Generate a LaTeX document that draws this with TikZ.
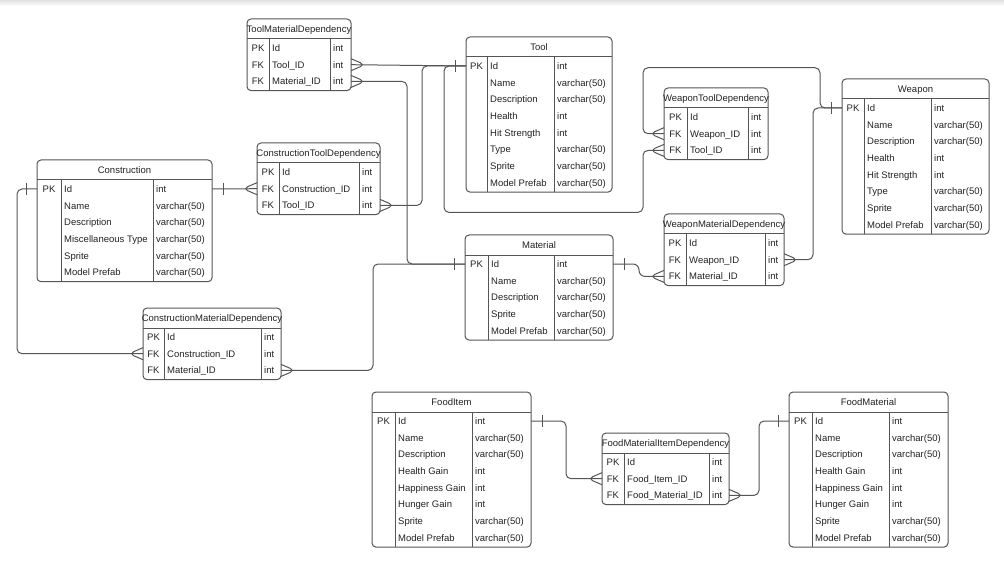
\documentclass[tikz,border=0pt]{standalone}
\usepackage{fontspec}
\setmainfont{Liberation Sans}

\definecolor{erline}{HTML}{555555}
\definecolor{ertext}{HTML}{222222}

\tikzset{
  tbl/.style={draw=erline, line width=1pt},
  cell/.style={inner sep=0pt, text=ertext, text height=6.8pt, text depth=0pt,
    font=\fontsize{9.5}{11}\selectfont},
  ttl/.style={cell},
  keycell/.style={cell},
  namecell/.style={cell, anchor=west},
  link/.style={draw=erline, line width=1pt, rounded corners=5pt},
}

% table: name, x, y, key col, name col, type col, title, rows
\newcommand{\ertable}[8]{%
  \foreach \ky/\nm/\ty [count=\i] in {#8} {
    \node[keycell] (#1-\i-k) at (#2+#4/2, #3+29+\i*16.7-16.7) {\ky};
    \node[namecell] (#1-\i-n) at (#2+#4+3, #3+29+\i*16.7-16.7) {\nm};
    \node[namecell] (#1-\i-t) at (#2+#4+#5+3, #3+29+\i*16.7-16.7) {\ty};
    \coordinate (#1-\i-w) at (#2, #3+29+\i*16.7-16.7);
    \coordinate (#1-\i-e) at (#2+#4+#5+#6, #3+29+\i*16.7-16.7);
    \xdef\ernrows{\i}
  }
  \draw[tbl, rounded corners=4pt] (#2,#3) rectangle ++(#4+#5+#6, 21.5+\ernrows*16.7);
  \draw[tbl] (#2,#3+20) -- ++(#4+#5+#6,0);
  \draw[tbl] (#2+#4,#3+20) -- (#2+#4, #3+21.5+\ernrows*16.7);
  \draw[tbl] (#2+#4+#5,#3+20) -- (#2+#4+#5, #3+21.5+\ernrows*16.7);
  \node[ttl] (#1) at (#2+#4/2+#5/2+#6/2, #3+10) {#7};
}

% one and many ends
\newcommand{\erone}[2]{\draw[link] ([xshift=#2*11pt, yshift=6pt]#1) -- ([xshift=#2*11pt, yshift=-6pt]#1);}
\newcommand{\ermany}[2]{\draw[link] ([yshift=6pt]#1) -- ([xshift=#2*14pt]#1) -- ([yshift=-6pt]#1);}

\begin{document}
\begin{tikzpicture}[x=1pt, y=-1pt]
  \useasboundingbox (0,0) rectangle (1004,564);
  \shade[top color=black!12, bottom color=white] (0,0) rectangle (1004,6);

  \ertable{tmd}{247}{19}{22}{61}{21}{ToolMaterialDependency}
    {PK/Id/int, FK/Tool\_ID/int, FK/Material\_ID/int}
  \ertable{tool}{466}{37}{21}{67}{58}{Tool}
    {PK/Id/int, /Name/varchar(50), /Description/varchar(50), /Health/int,
     /Hit Strength/int, /Type/varchar(50), /Sprite/varchar(50), /Model Prefab/varchar(50)}
  \ertable{weapon}{842}{79}{22}{67}{58}{Weapon}
    {PK/Id/int, /Name/varchar(50), /Description/varchar(50), /Health/int,
     /Hit Strength/int, /Type/varchar(50), /Sprite/varchar(50), /Model Prefab/varchar(50)}
  \ertable{wtd}{664}{88}{23}{61}{20}{WeaponToolDependency}
    {PK/Id/int, FK/Weapon\_ID/int, FK/Tool\_ID/int}
  \ertable{construction}{37}{160}{24}{92}{59}{Construction}
    {PK/Id/int, /Name/varchar(50), /Description/varchar(50),
     /Miscellaneous Type/varchar(50), /Sprite/varchar(50), /Model Prefab/varchar(50)}
  \ertable{ctd}{257}{143}{22}{80}{21}{ConstructionToolDependency}
    {PK/Id/int, FK/Construction\_ID/int, FK/Tool\_ID/int}
  \ertable{cmd}{143}{308}{21}{97}{20}{ConstructionMaterialDependency}
    {PK/Id/int, FK/Construction\_ID/int, FK/Material\_ID/int}
  \ertable{material}{465}{235}{23}{66}{59}{Material}
    {PK/Id/int, /Name/varchar(50), /Description/varchar(50), /Sprite/varchar(50),
     /Model Prefab/varchar(50)}
  \ertable{wmd}{664}{214}{22}{79}{19}{WeaponMaterialDependency}
    {PK/Id/int, FK/Weapon\_ID/int, FK/Material\_ID/int}
  \ertable{fooditem}{372}{392}{23}{77}{59}{FoodItem}
    {PK/Id/int, /Name/varchar(50), /Description/varchar(50), /Health Gain/int,
     /Happiness Gain/int, /Hunger Gain/int, /Sprite/varchar(50), /Model Prefab/varchar(50)}
  \ertable{fmid}{602}{433}{22}{85}{20}{FoodMaterialItemDependency}
    {PK/Id/int, FK/Food\_Item\_ID/int, FK/Food\_Material\_ID/int}
  \ertable{foodmat}{789}{392}{23}{77}{59}{FoodMaterial}
    {PK/Id/int, /Name/varchar(50), /Description/varchar(50), /Health Gain/int,
     /Happiness Gain/int, /Hunger Gain/int, /Sprite/varchar(50), /Model Prefab/varchar(50)}

  % tool links
  \draw[link] (tmd-2-e) -- (tool-1-w);
  \draw[link] (ctd-3-e) -- ++(42,0) |- (tool-1-w);
  \draw[link] (wtd-3-w) -- ++(-21,0) -- ++(0,62) -| ([xshift=-22pt]tool-1-w) -- (tool-1-w);
  \ermany{tmd-2-e}{1}
  \ermany{ctd-3-e}{1}
  \ermany{wtd-3-w}{-1}
  \erone{tool-1-w}{-1}

  % material links
  \draw[link] (tmd-3-e) -- ++(56,0) |- (material-1-w);
  \draw[link] (cmd-3-e) -- ++(92,0) |- (material-1-w);
  \draw[link, rounded corners=6pt] (material-1-e) -- ++(26,0) |- (wmd-3-w);
  \ermany{tmd-3-e}{1}
  \ermany{cmd-3-e}{1}
  \ermany{wmd-3-w}{-1}
  \erone{material-1-w}{-1}
  \erone{material-1-e}{1}

  % weapon links
  \draw[link] (wtd-2-w) -- ++(-21,0) -- ++(0,-66) -| ([xshift=-22pt]weapon-1-w) -- (weapon-1-w);
  \draw[link] (wmd-2-e) -- ++(29,0) |- (weapon-1-w);
  \ermany{wtd-2-w}{-1}
  \ermany{wmd-2-e}{1}
  \erone{weapon-1-w}{-1}

  % construction links
  \draw[link] (construction-1-e) -- (ctd-2-w);
  \draw[link] (construction-1-w) -- ++(-20,0) |- (cmd-2-w);
  \erone{construction-1-e}{1}
  \erone{construction-1-w}{-1}
  \ermany{ctd-2-w}{-1}
  \ermany{cmd-2-w}{-1}

  % food links
  \draw[link] (fooditem-1-e) -- ++(35,0) |- (fmid-2-w);
  \draw[link] (fmid-3-e) -- ++(30,0) |- (foodmat-1-w);
  \erone{fooditem-1-e}{1}
  \erone{foodmat-1-w}{-1}
  \ermany{fmid-2-w}{-1}
  \ermany{fmid-3-e}{1}
\end{tikzpicture}
\end{document}
